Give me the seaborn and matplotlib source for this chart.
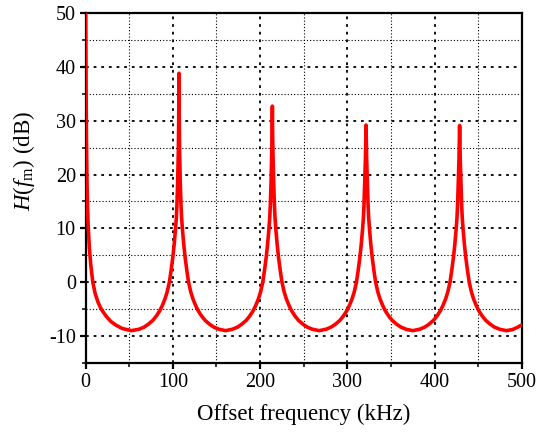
import matplotlib
matplotlib.use("Agg")
import matplotlib.pyplot as plt
import seaborn as sns
import pandas as pd
from matplotlib.ticker import MultipleLocator

# Values (offset frequency in kHz, H in dB)
freq_khz = [
    # first lobe (falling from the carrier)
    0, 0.3, 0.6, 1.0, 1.5, 2.2, 3.0, 4.3, 6, 8.3, 11, 14, 17, 20, 24, 29, 35, 42, 52.5,
    # rise to peak near 107 kHz
    61, 67, 72, 77, 81, 85, 88, 91, 93.5, 96, 98, 100, 101.5, 103, 104, 104.7, 105.5, 106.3, 106.7, 107,
    107.3, 107.7, 108.5, 109.3, 110, 111, 112.5, 114, 116, 118, 120.5, 123, 126, 129, 133, 137, 142, 147, 153, 160.5,
    # peak near 214 kHz
    168, 174, 179, 184, 188, 192, 195, 198, 200.5, 203, 205, 207, 208.5, 210, 211, 211.7, 212.5, 213.3, 213.7, 214,
    214.3, 214.7, 215.5, 216.3, 217, 218, 219.5, 221, 223, 225, 227.5, 230, 233, 236, 240, 244, 249, 254, 260, 267.7,
    # peak near 321 kHz
    275.3, 281.3, 286.3, 291.3, 295.3, 299.3, 302.3, 305.3, 307.8, 310.3, 312.3, 314.3, 315.8, 317.3, 318.3, 319, 319.8, 320.6, 321, 321.3,
    321.6, 322, 322.8, 323.6, 324.3, 325.3, 326.8, 328.3, 330.3, 332.3, 334.8, 337.3, 340.3, 343.3, 347.3, 351.3, 356.3, 361.3, 367.3, 374.9,
    # peak near 428 kHz
    382.5, 388.5, 393.5, 398.5, 402.5, 406.5, 409.5, 412.5, 415, 417.5, 419.5, 421.5, 423, 424.5, 425.5, 426.2, 427, 427.8, 428.2, 428.5,
    428.8, 429.2, 430, 430.8, 431.5, 432.5, 434, 435.5, 437.5, 439.5, 442, 444.5, 447.5, 450.5, 454.5, 458.5, 463.5, 468.5, 474.5, 482,
    489, 494.5, 500,
]
h_db = [
    56, 45, 36, 27, 20, 14, 10.5, 6.5, 3.2, 0, -2.1, -3.6, -4.7, -5.5, -6.4, -7.3, -8.0, -8.6, -9.0,
    -8.75, -8.35, -7.8, -7.1, -6.3, -5.3, -4.3, -3.1, -1.8, 0, 2.2, 4.7, 7, 9.8, 12, 14.5, 18.5, 24.5, 30, 38.8,
    30, 24.5, 18.5, 14.5, 12, 9.8, 7, 4.7, 2.2, 0, -1.8, -3.1, -4.3, -5.3, -6.3, -7.1, -7.8, -8.35, -8.75, -9.0,
    -8.75, -8.35, -7.8, -7.1, -6.3, -5.3, -4.3, -3.1, -1.8, 0, 2.2, 4.7, 7, 9.8, 12, 14.5, 18.5, 24, 27.5, 32.7,
    27.5, 24, 18.5, 14.5, 12, 9.8, 7, 4.7, 2.2, 0, -1.8, -3.1, -4.3, -5.3, -6.3, -7.1, -7.8, -8.35, -8.75, -9.0,
    -8.75, -8.35, -7.8, -7.1, -6.3, -5.3, -4.3, -3.1, -1.8, 0, 2.2, 4.7, 7, 9.8, 12, 14.5, 18.5, 23, 26, 29.2,
    26, 23, 18.5, 14.5, 12, 9.8, 7, 4.7, 2.2, 0, -1.8, -3.1, -4.3, -5.3, -6.3, -7.1, -7.8, -8.35, -8.75, -9.0,
    -8.75, -8.35, -7.8, -7.1, -6.3, -5.3, -4.3, -3.1, -1.8, 0, 2.2, 4.7, 7, 9.8, 12, 14.5, 18.5, 23, 26, 29.1,
    26, 23, 18.5, 14.5, 12, 9.8, 7, 4.7, 2.2, 0, -1.8, -3.1, -4.3, -5.3, -6.3, -7.1, -7.8, -8.35, -8.75, -9.0,
    -8.8, -8.4, -7.9,
]
x_ticks = [0, 100, 200, 300, 400, 500]
y_ticks = [-10, 0, 10, 20, 30, 40, 50]

sns.set_theme(style="white")
plt.rcParams["font.family"] = ["Liberation Serif", "DejaVu Serif"]
plt.rcParams["mathtext.fontset"] = "custom"
plt.rcParams["mathtext.rm"] = "Liberation Serif"
plt.rcParams["mathtext.it"] = "Liberation Serif:italic"
plt.rcParams["lines.scale_dashes"] = False
plt.rcParams["axes.unicode_minus"] = False

df = pd.DataFrame({"f": freq_khz, "H": h_db})

fig = plt.figure(figsize=(5.52, 4.41), dpi=100)
ax = fig.add_axes([0.155, 0.177, 0.7907, 0.7935])

sns.lineplot(data=df, x="f", y="H", ax=ax, color="#ff0000", linewidth=2.6,
             sort=False, estimator=None, zorder=3)

ax.set_xlim(0, 500)
ax.set_ylim(-15, 50)
ax.set_xticks(x_ticks)
ax.set_yticks(y_ticks)
ax.xaxis.set_minor_locator(MultipleLocator(50))
ax.yaxis.set_minor_locator(MultipleLocator(5))

ax.grid(True, which="major", color="black", linewidth=1.3, linestyle=(0, (2.0, 3.5)), zorder=1)
ax.grid(True, which="minor", color="black", linewidth=0.8, linestyle=(0, (0.8, 1.5)), zorder=1)
ax.set_axisbelow(True)

for s in ax.spines.values():
    s.set_linewidth(1.6)
    s.set_color("black")

ax.tick_params(axis="both", which="major", direction="out", length=4, width=1.6,
               labelsize=14.5, colors="black", bottom=True, left=True, top=False, right=False, pad=3)
ax.tick_params(axis="both", which="minor", direction="out", length=3, width=1.3,
               bottom=True, left=True, top=False, right=False)

ax.set_xlabel("Offset frequency (kHz)", fontsize=16.5, color="black", labelpad=9)
ax.set_ylabel(r"$H$($f_{\rm m}$) (dB)", fontsize=16.5, color="black")
ax.yaxis.set_label_coords(-0.112, 0.577)

fig.savefig("out.png", dpi=100)
